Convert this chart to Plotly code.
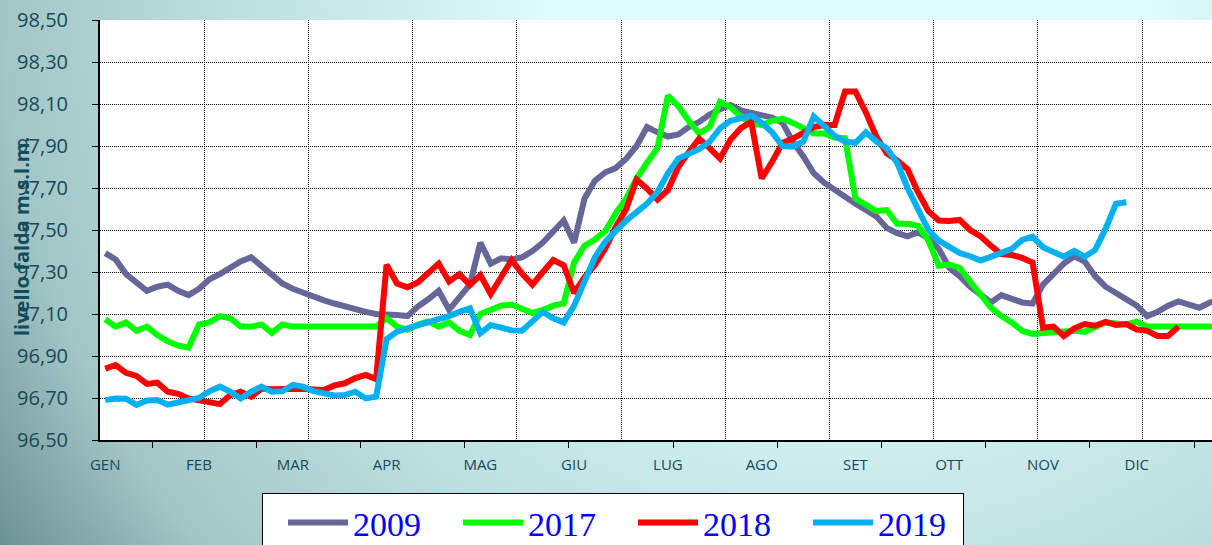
import base64
import plotly.graph_objects as go

months = ["GEN", "FEB", "MAR", "APR", "MAG", "GIU", "LUG", "AGO", "SET", "OTT", "NOV", "DIC"]
month_pos = [0, 9, 18, 27, 36, 45, 54, 63, 72, 81, 90, 99]

y2009 = [97.39, 97.36, 97.29, 97.25, 97.21, 97.23, 97.24, 97.21, 97.19, 97.22,
         97.265, 97.29, 97.32, 97.35, 97.37, 97.33, 97.29, 97.245, 97.22, 97.20,
         97.18, 97.165, 97.15, 97.135, 97.12, 97.11, 97.10, 97.10, 97.095, 97.09,
         97.135, 97.17, 97.21, 97.12, 97.18, 97.24, 97.44, 97.34, 97.365, 97.36,
         97.37, 97.40, 97.44, 97.49, 97.545, 97.44, 97.65, 97.735, 97.775, 97.795,
         97.84, 97.90, 97.99, 97.965, 97.945, 97.955, 97.99, 98.015, 98.05, 98.075,
         98.095, 98.07, 98.06, 98.05, 98.035, 98.01, 97.92, 97.85, 97.77, 97.725,
         97.69, 97.655, 97.625, 97.595, 97.565, 97.51, 97.485, 97.47, 97.49, 97.46,
         97.41, 97.32, 97.28, 97.23, 97.19, 97.155, 97.19, 97.17, 97.155, 97.15,
         97.24, 97.29, 97.34, 97.375, 97.35, 97.28, 97.23, 97.20, 97.17, 97.14,
         97.09, 97.11, 97.14, 97.16, 97.145, 97.13, 97.155, 97.17]

y2017 = [97.075, 97.04, 97.06, 97.02, 97.04, 97.00, 96.97, 96.95, 96.94, 97.05,
         97.06, 97.09, 97.08, 97.04, 97.04, 97.05, 97.01, 97.05, 97.04, 97.04,
         97.04, 97.04, 97.04, 97.04, 97.04, 97.04, 97.04, 97.08, 97.04, 97.025,
         97.05, 97.065, 97.04, 97.06, 97.02, 97.00, 97.10, 97.12, 97.14, 97.145,
         97.125, 97.105, 97.12, 97.14, 97.15, 97.345, 97.425, 97.455, 97.495, 97.58,
         97.65, 97.745, 97.82, 97.89, 98.14, 98.09, 98.02, 97.96, 97.99, 98.11,
         98.085, 98.04, 98.005, 98.00, 98.02, 98.03, 98.01, 97.985, 97.96, 97.96,
         97.94, 97.937, 97.65, 97.62, 97.59, 97.595, 97.53, 97.53, 97.52, 97.45,
         97.33, 97.335, 97.32, 97.255, 97.19, 97.13, 97.09, 97.06, 97.02, 97.005,
         97.01, 97.013, 97.02, 97.02, 97.015, 97.035, 97.06, 97.055, 97.05, 97.063,
         97.04, 97.04, 97.04, 97.04, 97.04, 97.04, 97.04, 97.04]

y2018 = [96.84, 96.857, 96.82, 96.805, 96.767, 96.773, 96.73, 96.72, 96.698, 96.69,
         96.682, 96.671, 96.714, 96.73, 96.706, 96.745, 96.742, 96.744, 96.746, 96.744,
         96.741, 96.738, 96.76, 96.77, 96.795, 96.81, 96.79, 97.335, 97.245, 97.227,
         97.25, 97.30, 97.34, 97.255, 97.29, 97.238, 97.285, 97.195, 97.27, 97.357,
         97.293, 97.24, 97.30, 97.357, 97.332, 97.20, 97.275, 97.333, 97.413, 97.515,
         97.60, 97.74, 97.697, 97.645, 97.69, 97.80, 97.87, 97.935, 97.89, 97.84,
         97.93, 97.985, 98.015, 97.746, 97.825, 97.915, 97.935, 97.965, 97.99, 98.00,
         98.00, 98.159, 98.159, 98.06, 97.945, 97.865, 97.832, 97.79, 97.68, 97.59,
         97.545, 97.543, 97.548, 97.50, 97.47, 97.425, 97.385, 97.381, 97.367, 97.345,
         97.035, 97.04, 96.995, 97.032, 97.052, 97.044, 97.062, 97.048, 97.052, 97.026,
         97.02, 96.995, 96.995, 97.04]

y2019 = [96.69, 96.698, 96.697, 96.667, 96.688, 96.69, 96.668, 96.678, 96.689, 96.70,
         96.732, 96.754, 96.73, 96.698, 96.73, 96.754, 96.73, 96.732, 96.762, 96.754,
         96.733, 96.72, 96.712, 96.714, 96.73, 96.698, 96.706, 96.98, 97.016, 97.032,
         97.045, 97.057, 97.073, 97.09, 97.11, 97.127, 97.008, 97.047, 97.035, 97.022,
         97.02, 97.07, 97.11, 97.08, 97.06, 97.14, 97.26, 97.37, 97.445, 97.50,
         97.545, 97.585, 97.626, 97.68, 97.77, 97.84, 97.862, 97.885, 97.92, 97.984,
         98.02, 98.035, 98.045, 98.01, 97.965, 97.90, 97.897, 97.921, 98.04, 97.996,
         97.948, 97.921, 97.915, 97.965, 97.922, 97.889, 97.82, 97.70, 97.60, 97.50,
         97.45, 97.422, 97.39, 97.375, 97.355, 97.372, 97.388, 97.41, 97.453, 97.468,
         97.418, 97.397, 97.373, 97.40, 97.373, 97.405, 97.505, 97.625, 97.632]

series = [("2009", y2009, "#666699"), ("2017", y2017, "#00FF00"),
          ("2018", y2018, "#FF0000"), ("2019", y2019, "#00B0F0")]

y_ticks = [96.5, 96.7, 96.9, 97.1, 97.3, 97.5, 97.7, 97.9, 98.1, 98.3, 98.5]

W, H = 1212, 545
ML, MR, MT, MB = 100, 0, 20, 105
PW, PH = W - ML - MR, H - MT - MB

svg = (
    "<svg xmlns='http://www.w3.org/2000/svg' width='1212' height='545' viewBox='0 0 1212 545' preserveAspectRatio='none'>"
    "<defs><radialGradient id='g' gradientUnits='userSpaceOnUse' cx='850' cy='0' r='1010'>"
    "<stop offset='0.3' stop-color='#ddfcfc'/>"
    "<stop offset='0.53' stop-color='#c4e6e6'/>"
    "<stop offset='0.65' stop-color='#b8dcdc'/>"
    "<stop offset='0.84' stop-color='#a2c5c6'/>"
    "<stop offset='1' stop-color='#6c9194'/>"
    "</radialGradient></defs><rect width='1212' height='545' fill='url(#g)'/></svg>"
)
bg_uri = "data:image/svg+xml;base64," + base64.b64encode(svg.encode()).decode()

fig = go.Figure()
for name, vals, color in series:
    fig.add_trace(go.Scatter(
        x=list(range(len(vals))), y=vals, name=name, mode="lines",
        line=dict(color=color, width=6), xaxis="x", yaxis="y",
    ))

x_range = [-0.5, -0.5 + PW / 10.42]
grid_x = [10 * k - 0.5 for k in range(1, 12)]
tick_x = [10 * k + 4.5 for k in range(0, 11)]

fig.update_layout(
    width=W, height=H,
    margin=dict(l=ML, r=MR, t=MT, b=MB, pad=0, autoexpand=False),
    paper_bgcolor="#a9cccc",
    plot_bgcolor="rgba(0,0,0,0)",
    separators=",.",
    images=[dict(source=bg_uri, xref="paper", yref="paper",
                 x=-ML / PW, y=1 + MT / PH, sizex=W / PW, sizey=H / PH,
                 xanchor="left", yanchor="top", sizing="stretch", layer="below")],
    shapes=[dict(type="rect", xref="paper", yref="paper", x0=0, x1=1, y0=0, y1=1,
                 fillcolor="white", line=dict(width=0), layer="below")],
    xaxis=dict(
        range=x_range, tickmode="array", tickvals=grid_x, showticklabels=False,
        ticks="", showgrid=True, gridcolor="#000000", griddash="1px,1px", gridwidth=1,
        showline=True, linecolor="#000000", linewidth=2, zeroline=False, automargin=False,
        minor=dict(tickmode="array", tickvals=tick_x, ticks="outside", ticklen=6,
                   tickcolor="#000000", tickwidth=1, showgrid=False),
    ),
    xaxis2=dict(
        range=x_range, overlaying="x", anchor="y", side="bottom",
        tickmode="array", tickvals=month_pos, ticktext=months, ticks="",
        showgrid=False, showline=False, zeroline=False, ticklabelstandoff=14, automargin=False,
        tickfont=dict(family="Open Sans", size=15, color="#17495a"),
    ),
    yaxis=dict(
        range=[96.5, 98.5], tickmode="array", tickvals=y_ticks, tickformat=".2f",
        ticks="outside", ticklen=6, tickcolor="#000000", ticklabelstandoff=20,
        showgrid=True, gridcolor="#000000", griddash="1px,1px", gridwidth=1,
        showline=True, linecolor="#000000", linewidth=2, zeroline=False, automargin=False,
        tickfont=dict(family="Open Sans", size=20, color="#17495a"),
    ),
    legend=dict(
        orientation="h", x=(262 - ML) / PW, xanchor="left", y=(440 - 493) / PH, yanchor="top",
        bgcolor="white", bordercolor="#000000", borderwidth=1,
        font=dict(family="Liberation Serif", size=34, color="#0000FF"),
        entrywidth=80, entrywidthmode="pixels", itemwidth=60, indentation=20,
    ),
    annotations=[dict(
        text="<b>livello falda m.s.l.m.</b>", textangle=-90,
        xref="paper", yref="paper", x=(22 - ML) / PW, y=(440 - 237) / PH,
        xanchor="center", yanchor="middle", showarrow=False,
        font=dict(family="Open Sans", size=20, color="#0f4c5c"),
    )],
)
fig.add_trace(go.Scatter(x=[None], y=[None], xaxis="x2", yaxis="y", showlegend=False, hoverinfo="skip"))

fig.write_html("out.html", config={"displayModeBar": False},
               post_script="document.body.style.margin='0px';document.body.style.overflow='hidden';")
